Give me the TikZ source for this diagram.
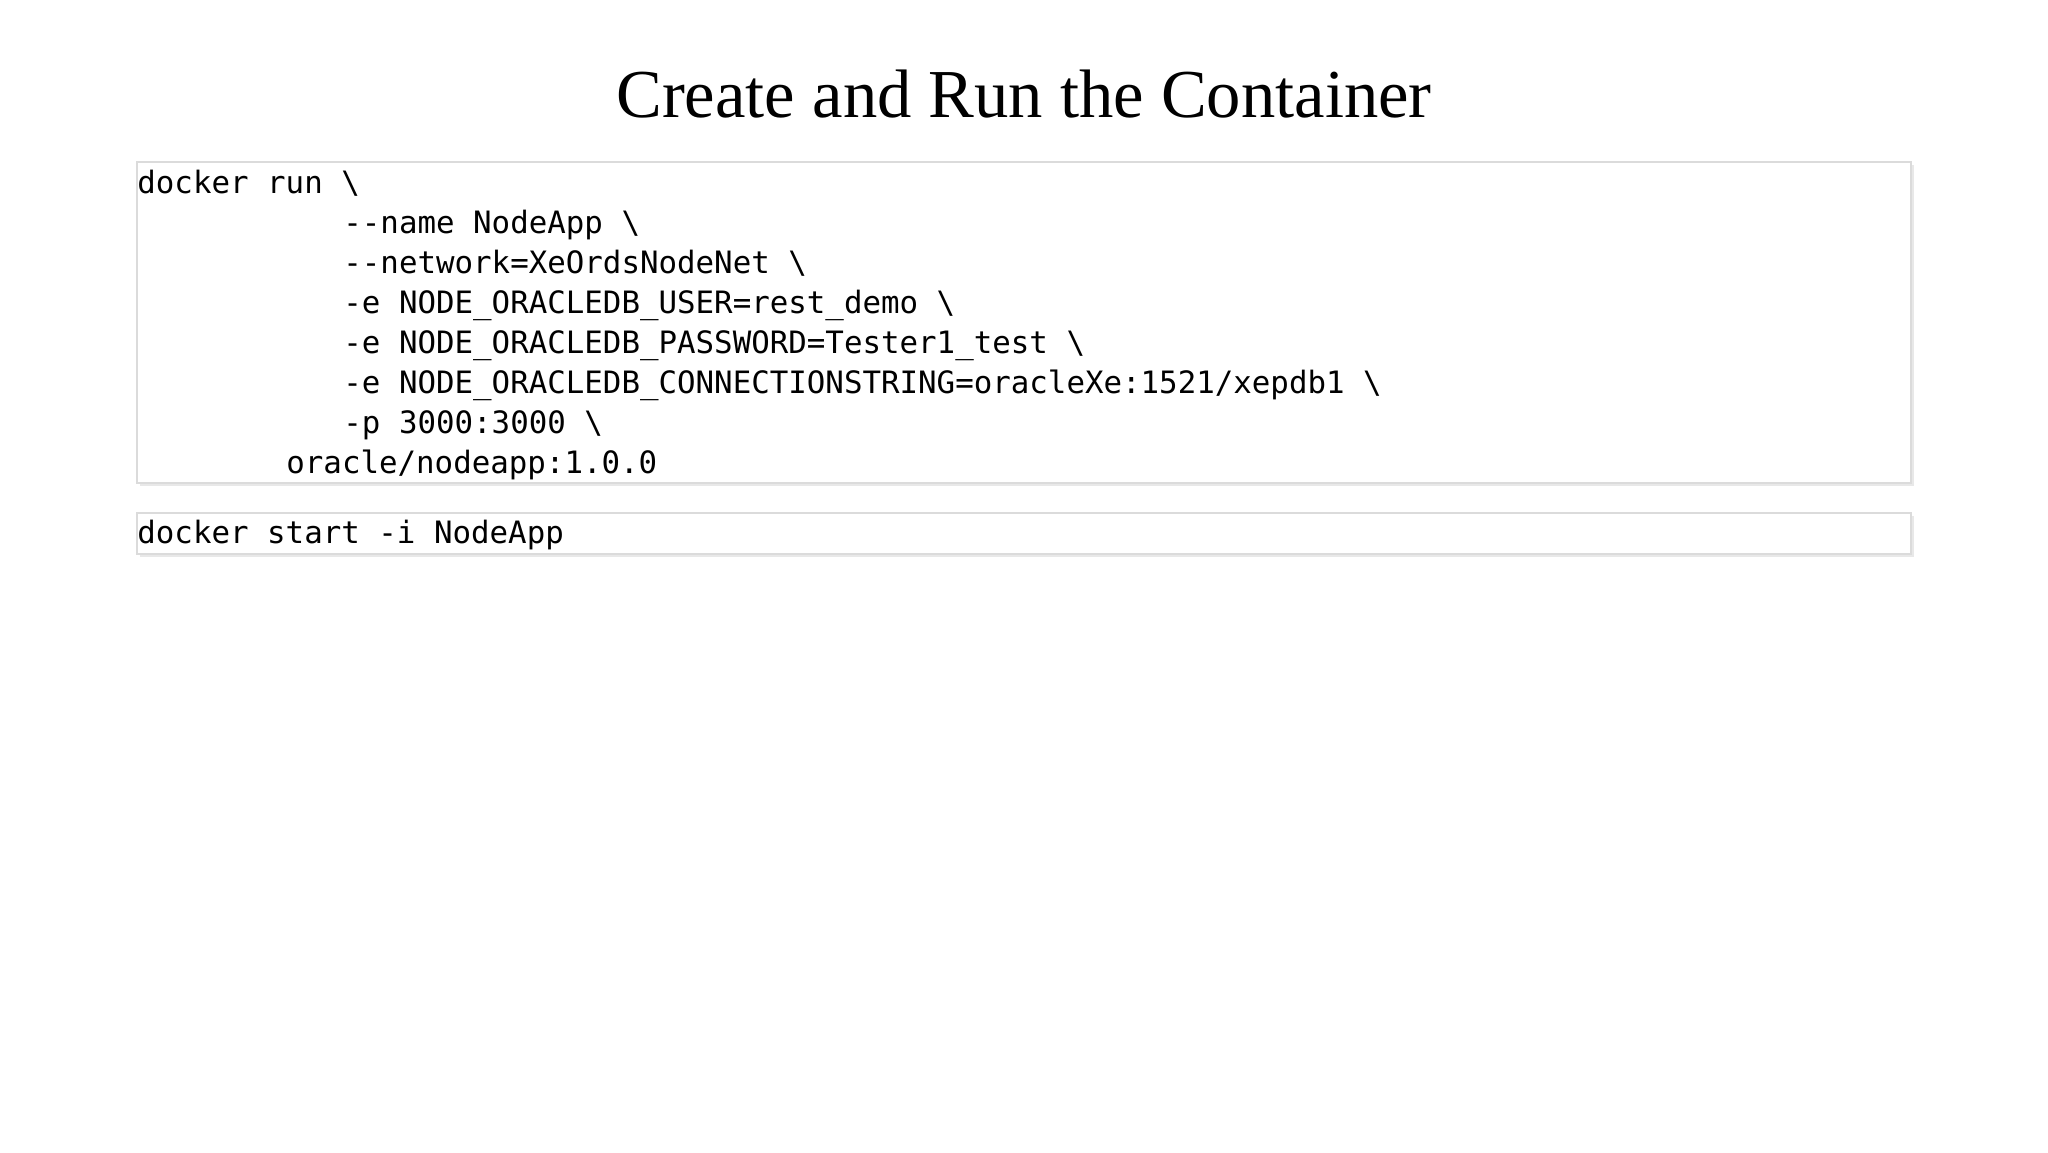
\documentclass[tikz,border=0pt]{standalone}
\usepackage{fontspec}
\setmainfont{Liberation Serif}
\setmonofont{DejaVu Sans Mono}
\usetikzlibrary{shadows}
\begin{document}
\begin{tikzpicture}[x=0.5pt,y=-0.5pt,
  codebox/.style={draw=black!14, line width=1pt, fill=white,
    drop shadow={shadow xshift=1.5pt, shadow yshift=-1.5pt, opacity=0.22, fill=black!40}},
  codeline/.style={anchor=base west, inner sep=0pt, font=\fontsize{15.4}{20}\selectfont\ttfamily},
  titletext/.style={anchor=base, inner sep=0pt, font=\fontsize{34.3}{40}\selectfont}]
\useasboundingbox[fill=white] (0,0) rectangle (2048,1152);
\node[titletext] (title) at (1024,117) {Create and Run the Container};
\coordinate (b1nw) at (137,162);
\coordinate (b1se) at (1911,483);
\coordinate (b2nw) at (137,513);
\coordinate (b2se) at (1911,554);
\path[codebox] (b1nw) rectangle (b1se);
\path[codebox] (b2nw) rectangle (b2se);
\node[codeline] (l1) at (137,193) {docker run \textbackslash};
\node[codeline] (l2) at (343,233) {--name NodeApp \textbackslash};
\node[codeline] (l3) at (343,273) {--network=XeOrdsNodeNet \textbackslash};
\node[codeline] (l4) at (343,313) {-e NODE\_ORACLEDB\_USER=rest\_demo \textbackslash};
\node[codeline] (l5) at (343,353) {-e NODE\_ORACLEDB\_PASSWORD=Tester1\_test \textbackslash};
\node[codeline] (l6) at (343,393) {-e NODE\_ORACLEDB\_CONNECTIONSTRING=oracleXe:1521/xepdb1 \textbackslash};
\node[codeline] (l7) at (343,433) {-p 3000:3000 \textbackslash};
\node[codeline] (l8) at (286,473) {oracle/nodeapp:1.0.0};
\node[codeline] (s1) at (137,543) {docker start -i NodeApp};
\end{tikzpicture}
\end{document}
